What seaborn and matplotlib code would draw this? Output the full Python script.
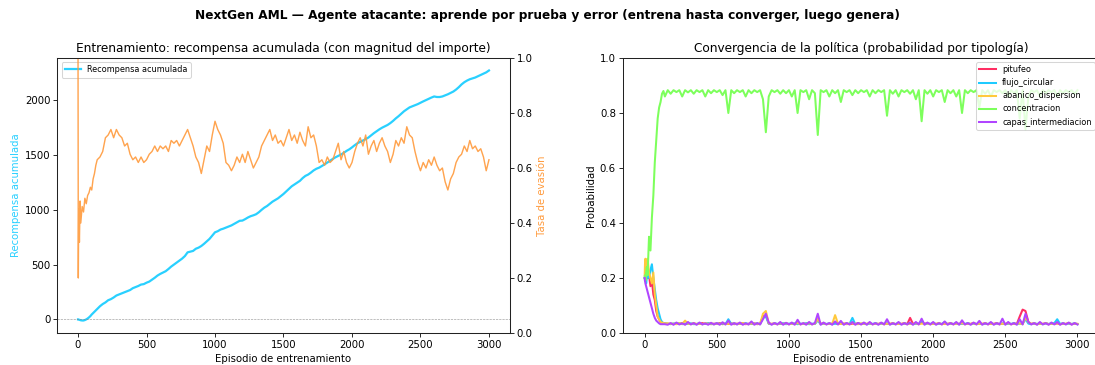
import numpy as np
import pandas as pd
import matplotlib
matplotlib.use("Agg")
import matplotlib.pyplot as plt
import seaborn as sns

# Episodios de entrenamiento muestreados (denso al inicio, luego cada 20)
episodios = [0, 2, 5, 10, 15, 20, 30, 40, 50, 60, 70, 80, 90, 100, 110, 120, 130, 140] + list(range(160, 3001, 20))

# Recompensa acumulada
recompensa = [0, 0, -2, -4, -6, -8, -10, -10, -6, 0, 8, 18, 30, 45, 58, 70, 82, 95,
    120, 140, 155, 175, 185, 200, 218, 228, 238, 248,
    258, 268, 285, 295, 305, 318, 322, 335, 345, 362,
    380, 400, 415, 428, 440, 460, 482, 500, 518, 535,
    555, 578, 612, 618, 625, 645, 655, 670, 690, 712,
    735, 765, 795, 805, 820, 828, 838, 848, 858, 872,
    885, 900, 902, 915, 930, 942, 950, 960, 978, 1000,
    1020, 1035, 1055, 1075, 1090, 1105, 1125, 1145, 1168, 1192,
    1215, 1232, 1250, 1265, 1290, 1310, 1322, 1340, 1360, 1375,
    1385, 1400, 1415, 1432, 1450, 1465, 1480, 1492, 1505, 1520,
    1538, 1552, 1570, 1590, 1608, 1620, 1632, 1645, 1660, 1680,
    1700, 1718, 1735, 1750, 1762, 1775, 1792, 1812, 1835, 1855,
    1878, 1900, 1918, 1935, 1945, 1955, 1965, 1978, 1990, 2002,
    2015, 2025, 2035, 2030, 2030, 2035, 2045, 2055, 2068, 2080,
    2098, 2120, 2145, 2165, 2180, 2192, 2200, 2208, 2220, 2232,
    2245, 2255, 2272]

# Tasa de evasión (eje derecho)
evasion = [1.0, 0.2, 0.45, 0.33, 0.48, 0.40, 0.46, 0.44, 0.49, 0.47, 0.50, 0.51, 0.53, 0.52, 0.56, 0.58, 0.61, 0.63,
    0.64, 0.66, 0.71, 0.72, 0.74, 0.71, 0.74, 0.72, 0.71, 0.68,
    0.69, 0.65, 0.63, 0.64, 0.62, 0.64, 0.62, 0.63, 0.65, 0.66,
    0.68, 0.66, 0.68, 0.67, 0.68, 0.66, 0.70, 0.69, 0.70, 0.68,
    0.70, 0.72, 0.74, 0.71, 0.68, 0.64, 0.62, 0.58, 0.63, 0.68,
    0.66, 0.72, 0.77, 0.74, 0.72, 0.69, 0.62, 0.61, 0.59, 0.61,
    0.64, 0.62, 0.65, 0.62, 0.66, 0.63, 0.60, 0.62, 0.64, 0.68,
    0.70, 0.72, 0.74, 0.70, 0.72, 0.69, 0.70, 0.68, 0.71, 0.74,
    0.70, 0.72, 0.69, 0.73, 0.70, 0.68, 0.75, 0.71, 0.72, 0.68,
    0.62, 0.63, 0.61, 0.64, 0.62, 0.63, 0.66, 0.69, 0.63, 0.66,
    0.62, 0.60, 0.62, 0.66, 0.69, 0.71, 0.68, 0.72, 0.65, 0.68,
    0.70, 0.66, 0.69, 0.71, 0.68, 0.66, 0.62, 0.65, 0.70, 0.68,
    0.71, 0.69, 0.75, 0.72, 0.71, 0.66, 0.62, 0.59, 0.62, 0.60,
    0.63, 0.61, 0.64, 0.61, 0.59, 0.60, 0.55, 0.52, 0.56, 0.58,
    0.62, 0.64, 0.65, 0.68, 0.66, 0.70, 0.67, 0.68, 0.66, 0.67,
    0.64, 0.59, 0.63]

# Probabilidad por tipología
tipologias = ["pitufeo", "flujo_circular", "abanico_dispersion", "concentracion", "capas_intermediacion"]
colores = ["#ff2e63", "#1ecbff", "#ffc93c", "#7dff5c", "#b145ff"]

pitufeo = [0.20, 0.21, 0.20, 0.22, 0.21, 0.20, 0.21, 0.17, 0.19, 0.14, 0.12, 0.08, 0.06, 0.05, 0.04, 0.038, 0.036, 0.035,
    0.033, 0.034, 0.032, 0.035, 0.033, 0.036, 0.032, 0.034, 0.033, 0.035,
    0.032, 0.034, 0.036, 0.033, 0.035, 0.032, 0.034, 0.033, 0.036, 0.032,
    0.034, 0.033, 0.035, 0.032, 0.034, 0.033, 0.036, 0.032, 0.034, 0.033,
    0.035, 0.032, 0.034, 0.060, 0.065, 0.034, 0.033, 0.035, 0.032, 0.034,
    0.033, 0.036, 0.032, 0.034, 0.033, 0.035, 0.032, 0.034, 0.033, 0.036,
    0.032, 0.034, 0.050, 0.033, 0.035, 0.032, 0.034, 0.033, 0.036, 0.032,
    0.034, 0.033, 0.035, 0.032, 0.034, 0.033, 0.036, 0.032, 0.034, 0.033,
    0.035, 0.032, 0.034, 0.033, 0.036, 0.032, 0.034, 0.033, 0.035, 0.032,
    0.034, 0.033, 0.036, 0.032, 0.055, 0.033, 0.035, 0.032, 0.040, 0.033,
    0.036, 0.032, 0.034, 0.033, 0.035, 0.032, 0.034, 0.033, 0.036, 0.032,
    0.034, 0.033, 0.035, 0.032, 0.034, 0.033, 0.036, 0.032, 0.034, 0.033,
    0.035, 0.032, 0.034, 0.033, 0.036, 0.032, 0.034, 0.033, 0.035, 0.032,
    0.034, 0.033, 0.060, 0.085, 0.080, 0.040, 0.033, 0.035, 0.032, 0.034,
    0.033, 0.036, 0.032, 0.034, 0.033, 0.035, 0.032, 0.034, 0.033, 0.036,
    0.032, 0.034, 0.033]

flujo_circular = [0.20, 0.19, 0.21, 0.18, 0.20, 0.22, 0.20, 0.23, 0.25, 0.20, 0.16, 0.12, 0.09, 0.07, 0.05, 0.04, 0.036, 0.035,
    0.034, 0.032, 0.035, 0.033, 0.036, 0.032, 0.034, 0.033, 0.035, 0.032,
    0.033, 0.035, 0.032, 0.034, 0.036, 0.033, 0.032, 0.035, 0.033, 0.034,
    0.032, 0.050, 0.033, 0.035, 0.032, 0.034, 0.033, 0.036, 0.032, 0.034,
    0.033, 0.035, 0.032, 0.055, 0.060, 0.034, 0.032, 0.035, 0.033, 0.034,
    0.036, 0.032, 0.034, 0.033, 0.035, 0.032, 0.034, 0.033, 0.036, 0.032,
    0.034, 0.033, 0.045, 0.032, 0.034, 0.033, 0.035, 0.032, 0.034, 0.033,
    0.036, 0.032, 0.034, 0.033, 0.055, 0.032, 0.034, 0.033, 0.035, 0.032,
    0.034, 0.033, 0.036, 0.032, 0.034, 0.033, 0.035, 0.032, 0.034, 0.033,
    0.036, 0.032, 0.034, 0.033, 0.035, 0.032, 0.034, 0.033, 0.045, 0.032,
    0.034, 0.033, 0.036, 0.032, 0.034, 0.033, 0.040, 0.032, 0.034, 0.033,
    0.035, 0.032, 0.034, 0.033, 0.036, 0.032, 0.034, 0.033, 0.035, 0.032,
    0.034, 0.033, 0.036, 0.032, 0.034, 0.033, 0.035, 0.032, 0.034, 0.033,
    0.036, 0.032, 0.034, 0.033, 0.050, 0.034, 0.032, 0.035, 0.033, 0.034,
    0.032, 0.035, 0.033, 0.034, 0.036, 0.050, 0.033, 0.035, 0.032, 0.034,
    0.033, 0.035, 0.032]

abanico_dispersion = [0.21, 0.25, 0.27, 0.23, 0.26, 0.27, 0.22, 0.20, 0.18, 0.22, 0.14, 0.10, 0.06, 0.05, 0.04, 0.038, 0.036, 0.035,
    0.035, 0.033, 0.034, 0.032, 0.036, 0.033, 0.045, 0.034, 0.032, 0.035,
    0.033, 0.034, 0.032, 0.036, 0.033, 0.035, 0.032, 0.034, 0.033, 0.036,
    0.032, 0.034, 0.033, 0.035, 0.032, 0.034, 0.036, 0.033, 0.032, 0.035,
    0.033, 0.034, 0.032, 0.070, 0.080, 0.035, 0.033, 0.034, 0.032, 0.036,
    0.033, 0.035, 0.032, 0.034, 0.033, 0.036, 0.032, 0.034, 0.033, 0.035,
    0.032, 0.034, 0.050, 0.033, 0.035, 0.032, 0.034, 0.033, 0.065, 0.034,
    0.033, 0.035, 0.032, 0.034, 0.036, 0.033, 0.032, 0.035, 0.034, 0.033,
    0.036, 0.032, 0.034, 0.033, 0.035, 0.032, 0.034, 0.033, 0.036, 0.032,
    0.034, 0.033, 0.035, 0.032, 0.034, 0.033, 0.036, 0.032, 0.034, 0.033,
    0.035, 0.032, 0.034, 0.033, 0.036, 0.032, 0.034, 0.033, 0.035, 0.032,
    0.034, 0.033, 0.036, 0.032, 0.034, 0.033, 0.035, 0.032, 0.034, 0.033,
    0.036, 0.032, 0.034, 0.033, 0.035, 0.032, 0.034, 0.033, 0.036, 0.032,
    0.034, 0.033, 0.035, 0.032, 0.055, 0.040, 0.033, 0.035, 0.032, 0.034,
    0.033, 0.036, 0.032, 0.034, 0.033, 0.035, 0.032, 0.034, 0.033, 0.036,
    0.032, 0.034, 0.033]

concentracion = [0.20, 0.21, 0.19, 0.22, 0.24, 0.21, 0.35, 0.30, 0.42, 0.50, 0.62, 0.70, 0.78, 0.82, 0.84, 0.87, 0.88, 0.86,
    0.883, 0.87, 0.883, 0.876, 0.883, 0.86, 0.883, 0.875, 0.883, 0.87,
    0.883, 0.876, 0.883, 0.86, 0.883, 0.872, 0.883, 0.876, 0.883, 0.865,
    0.883, 0.80, 0.883, 0.872, 0.883, 0.876, 0.883, 0.86, 0.883, 0.872,
    0.883, 0.876, 0.883, 0.85, 0.73, 0.86, 0.883, 0.876, 0.883, 0.87,
    0.883, 0.872, 0.883, 0.86, 0.883, 0.80, 0.883, 0.876, 0.883, 0.85,
    0.883, 0.872, 0.72, 0.883, 0.876, 0.883, 0.86, 0.883, 0.872, 0.883,
    0.84, 0.883, 0.876, 0.883, 0.865, 0.883, 0.872, 0.883, 0.876, 0.883,
    0.86, 0.883, 0.872, 0.883, 0.876, 0.883, 0.79, 0.883, 0.87, 0.883,
    0.86, 0.883, 0.876, 0.883, 0.87, 0.883, 0.85, 0.883, 0.77, 0.883,
    0.87, 0.883, 0.86, 0.883, 0.876, 0.883, 0.84, 0.883, 0.872, 0.883,
    0.86, 0.883, 0.80, 0.883, 0.872, 0.883, 0.876, 0.883, 0.82, 0.883,
    0.87, 0.883, 0.86, 0.883, 0.876, 0.883, 0.872, 0.883, 0.86, 0.883,
    0.872, 0.883, 0.78, 0.883, 0.74, 0.86, 0.883, 0.876, 0.883, 0.86,
    0.883, 0.872, 0.883, 0.876, 0.883, 0.86, 0.883, 0.872, 0.883, 0.876,
    0.883, 0.87, 0.883]

capas_intermediacion = [0.20, 0.19, 0.18, 0.17, 0.16, 0.15, 0.13, 0.11, 0.09, 0.07, 0.055, 0.045, 0.04, 0.035, 0.032, 0.032, 0.032, 0.032,
    0.030, 0.036, 0.030, 0.038, 0.031, 0.035, 0.030, 0.040, 0.031, 0.036,
    0.030, 0.038, 0.031, 0.035, 0.030, 0.037, 0.031, 0.036, 0.030, 0.039,
    0.031, 0.045, 0.030, 0.036, 0.031, 0.038, 0.030, 0.035, 0.031, 0.042,
    0.030, 0.036, 0.031, 0.050, 0.070, 0.038, 0.030, 0.036, 0.031, 0.040,
    0.030, 0.037, 0.031, 0.038, 0.030, 0.048, 0.031, 0.036, 0.030, 0.040,
    0.031, 0.036, 0.070, 0.030, 0.038, 0.031, 0.036, 0.030, 0.042, 0.031,
    0.044, 0.030, 0.036, 0.031, 0.040, 0.030, 0.036, 0.031, 0.038, 0.030,
    0.040, 0.031, 0.036, 0.030, 0.038, 0.031, 0.050, 0.030, 0.036, 0.031,
    0.040, 0.030, 0.036, 0.031, 0.038, 0.030, 0.040, 0.031, 0.052, 0.030,
    0.038, 0.031, 0.040, 0.030, 0.036, 0.031, 0.042, 0.030, 0.036, 0.031,
    0.040, 0.030, 0.046, 0.031, 0.036, 0.030, 0.038, 0.031, 0.044, 0.030,
    0.036, 0.031, 0.040, 0.030, 0.036, 0.031, 0.052, 0.030, 0.040, 0.031,
    0.036, 0.030, 0.050, 0.031, 0.070, 0.040, 0.031, 0.036, 0.030, 0.040,
    0.031, 0.036, 0.030, 0.038, 0.031, 0.040, 0.030, 0.036, 0.031, 0.038,
    0.030, 0.036, 0.031]

series = [pitufeo, flujo_circular, abanico_dispersion, concentracion, capas_intermediacion]
for s in series + [recompensa, evasion]:
    assert len(s) == len(episodios), len(s)

df_pol = pd.DataFrame({
    "episodio": episodios * len(tipologias),
    "probabilidad": sum(series, []),
    "tipologia": [t for t in tipologias for _ in episodios],
})

fig = plt.figure(figsize=(15, 5), dpi=73)
ax1 = fig.add_axes([0.0525, 0.0877, 0.4128, 0.7534])
ax2 = fig.add_axes([0.569, 0.0877, 0.4347, 0.7534])

# Panel izquierdo
color_rec = "#29d0ff"
color_eva = "#ff9a3c"
sns.lineplot(x=episodios, y=recompensa, ax=ax1, color=color_rec, linewidth=2.2,
             label="Recompensa acumulada")
ax1.axhline(0, color="gray", linestyle="--", linewidth=0.6, alpha=0.8)
ax1.set_xlabel("Episodio de entrenamiento")
ax1.set_ylabel("Recompensa acumulada", color=color_rec)
ax1.set_title("Entrenamiento: recompensa acumulada (con magnitud del importe)")
ax1.legend(loc="upper left", fontsize=8)

ax1b = ax1.twinx()
sns.lineplot(x=episodios, y=evasion, ax=ax1b, color=color_eva, linewidth=1.4, alpha=0.9)
ax1b.set_ylim(0, 1)
ax1b.set_ylabel("Tasa de evasión", color=color_eva)

# Panel derecho
sns.lineplot(data=df_pol, x="episodio", y="probabilidad", hue="tipologia",
             hue_order=tipologias, palette=dict(zip(tipologias, colores)),
             estimator=None, linewidth=2, ax=ax2)
ax2.set_ylim(0, 1)
ax2.set_xlabel("Episodio de entrenamiento")
ax2.set_ylabel("Probabilidad")
ax2.set_title("Convergencia de la política (probabilidad por tipología)")
sns.move_legend(ax2, "upper right", fontsize=8, title=None)

# bordes completos como en el original
for ax in (ax1, ax1b, ax2):
    for sp in ax.spines.values():
        sp.set_visible(True)
        sp.set_color("#222222")
        sp.set_linewidth(1.0)

fig.suptitle("NextGen AML — Agente atacante: aprende por prueba y error (entrena hasta converger, luego genera)",
             fontsize=12, fontweight="bold", y=0.975)

fig.savefig("out.png", dpi=73)
